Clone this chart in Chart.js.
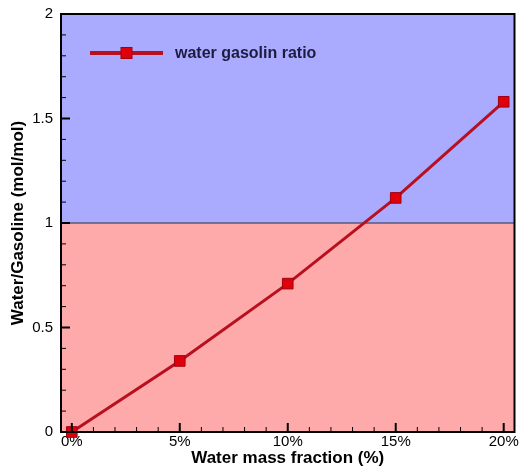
<!DOCTYPE html>
<html>
<head>
<meta charset="utf-8">
<script src="https://cdn.jsdelivr.net/npm/chart.js@4/dist/chart.umd.min.js"></script>
<style>
  html, body { margin: 0; padding: 0; background: #fff; }
  #wrap { width: 523px; height: 472px; }
</style>
</head>
<body>
<div id="wrap"><canvas id="chartRatio" width="523" height="472"></canvas></div>
<script>
const fractions = [0, 5, 10, 15, 20];
const ratios = [0, 0.34, 0.71, 1.12, 1.58];
const xMajorTicks = [0, 5, 10, 15, 20];
const yMajorTicks = [0, 0.5, 1, 1.5, 2];
const seriesName = 'water gasolin ratio';
const threshold = 1;

const lineColor = '#b8101e';
const markerFill = '#e0000c';

// fondo en dos zonas, por encima y por debajo de 1
const fondo = {
  id: 'fondo',
  beforeDatasetsDraw(chart) {
    const { ctx, chartArea: a, scales: { y } } = chart;
    const yt = y.getPixelForValue(threshold);
    ctx.save();
    ctx.fillStyle = '#aaaaff';
    ctx.fillRect(a.left, a.top, a.right - a.left, yt - a.top);
    ctx.fillStyle = '#ffaaaa';
    ctx.fillRect(a.left, yt, a.right - a.left, a.bottom - yt);
    ctx.strokeStyle = '#5a5a78';
    ctx.lineWidth = 1.5;
    ctx.beginPath();
    ctx.moveTo(a.left, yt);
    ctx.lineTo(a.right, yt);
    ctx.stroke();
    ctx.restore();
  }
};

// marco y marcas hacia dentro
const marco = {
  id: 'marco',
  afterDatasetsDraw(chart) {
    const { ctx, chartArea: a, scales: { x, y } } = chart;
    ctx.save();
    ctx.strokeStyle = '#000';
    for (let v = 0; v <= 20; v += 1) {
      const major = v % 5 === 0;
      const px = x.getPixelForValue(v);
      ctx.lineWidth = major ? 2 : 1;
      ctx.beginPath();
      ctx.moveTo(px, a.bottom);
      ctx.lineTo(px, a.bottom - (major ? 9 : 5));
      ctx.stroke();
    }
    for (let i = 0; i <= 20; i++) {
      const v = i / 10;
      const major = i % 5 === 0;
      const py = y.getPixelForValue(v);
      ctx.lineWidth = major ? 2 : 1;
      ctx.beginPath();
      ctx.moveTo(a.left, py);
      ctx.lineTo(a.left + (major ? 9 : 5), py);
      ctx.stroke();
    }
    ctx.lineWidth = 2;
    ctx.strokeRect(a.left, a.top, a.right - a.left, a.bottom - a.top);
    ctx.restore();
  }
};

// leyenda dentro del area
const leyenda = {
  id: 'leyenda',
  afterDraw(chart) {
    const { ctx, chartArea: a } = chart;
    const x0 = a.left + 29, x1 = a.left + 102, yy = 53;
    ctx.save();
    ctx.strokeStyle = lineColor;
    ctx.lineWidth = 4;
    ctx.beginPath();
    ctx.moveTo(x0, yy);
    ctx.lineTo(x1, yy);
    ctx.stroke();
    const mx = (x0 + x1) / 2;
    ctx.fillStyle = markerFill;
    ctx.fillRect(mx - 5.5, yy - 5.5, 11, 11);
    ctx.strokeStyle = '#a00010';
    ctx.lineWidth = 1;
    ctx.strokeRect(mx - 5.5, yy - 5.5, 11, 11);
    ctx.fillStyle = '#1c1c40';
    ctx.font = 'bold 16px "Liberation Sans", Arial, sans-serif';
    ctx.textBaseline = 'middle';
    ctx.fillText(chart.data.datasets[0].label, a.left + 114, yy + 1);
    ctx.restore();
  }
};

const ctx = document.getElementById('chartRatio').getContext('2d');

const chartRatio = new Chart(ctx, {
  type: 'line',
  data: {
    datasets: [{
      label: seriesName,
      data: fractions.map((f, i) => ({ x: f, y: ratios[i] })),
      borderColor: lineColor,
      borderWidth: 3,
      pointStyle: 'rect',
      pointRadius: 7.5,
      pointBackgroundColor: markerFill,
      pointBorderColor: '#a00010',
      pointBorderWidth: 1,
      clip: false,
      tension: 0
    }]
  },
  options: {
    responsive: false,
    animation: false,
    layout: { padding: { top: 14, right: 6, left: 0, bottom: 0 } },
    plugins: {
      legend: { display: false },
      tooltip: { enabled: false }
    },
    scales: {
      x: {
        type: 'linear',
        min: -0.5,
        max: 20.5,
        afterBuildTicks(scale) {
          scale.ticks = xMajorTicks.map(v => ({ value: v }));
        },
        afterFit(scale) { scale.height = 40; },
        grid: { display: false, drawTicks: false },
        border: { display: false },
        ticks: {
          padding: 1,
          color: '#000',
          font: { family: '"Liberation Sans", Arial, sans-serif', size: 15 },
          callback: v => v + '%'
        },
        title: {
          display: true,
          text: 'Water mass fraction (%)',
          color: '#000',
          padding: { top: 0, bottom: 3 },
          font: { family: '"Liberation Sans", Arial, sans-serif', size: 17, weight: 'bold' }
        }
      },
      y: {
        min: 0,
        max: 2,
        afterBuildTicks(scale) {
          scale.ticks = yMajorTicks.map(v => ({ value: v }));
        },
        afterFit(scale) {
          scale.width = 61;
          scale.paddingTop = 0;
          scale.paddingBottom = 0;
        },
        grid: { display: false, drawTicks: false },
        border: { display: false },
        ticks: {
          padding: 8,
          color: '#000',
          font: { family: '"Liberation Sans", Arial, sans-serif', size: 15 },
          callback: v => String(v)
        },
        title: {
          display: true,
          text: 'Water/Gasoline (mol/mol)',
          color: '#000',
          padding: { top: 8, bottom: 0 },
          font: { family: '"Liberation Sans", Arial, sans-serif', size: 17, weight: 'bold' }
        }
      }
    }
  },
  plugins: [fondo, marco, leyenda]
});
</script>
</body>
</html>
